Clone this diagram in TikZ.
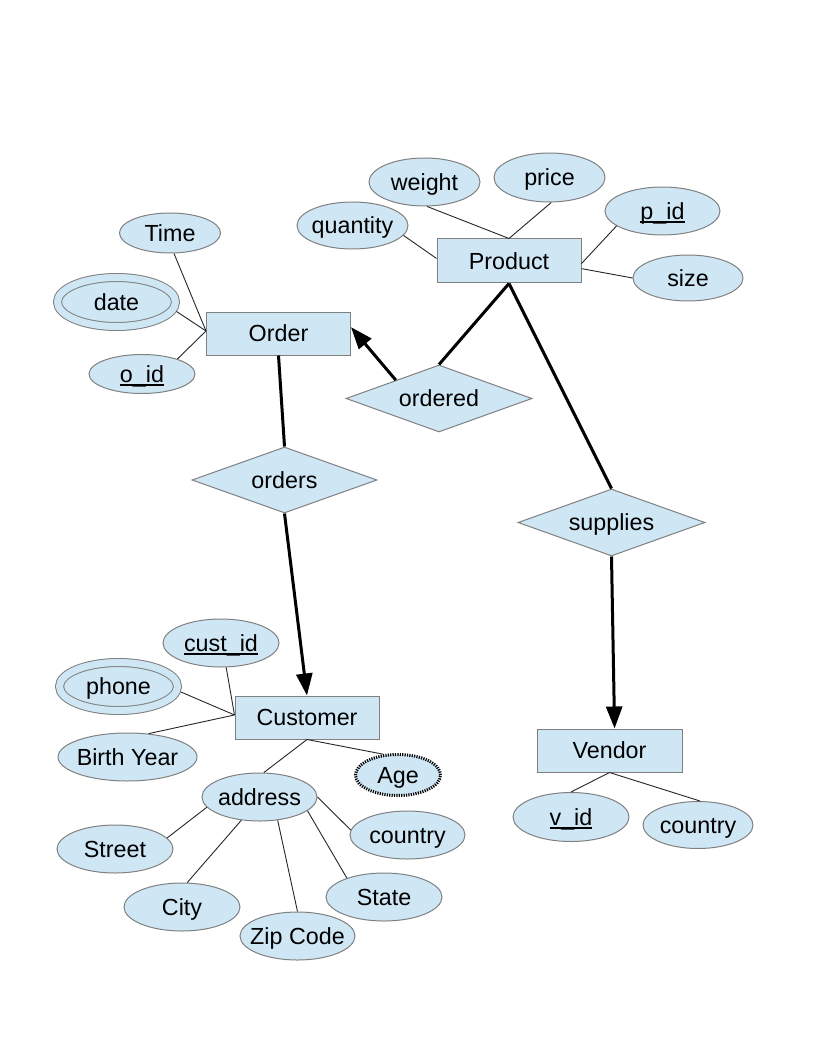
\documentclass[tikz,border=0pt]{standalone}
\usepackage{fontspec}
\setmainfont{Liberation Sans}
\usetikzlibrary{shapes.geometric,arrows.meta}
\definecolor{erfill}{RGB}{207,231,245}
\definecolor{erline}{RGB}{128,128,128}
% key attribute: underline drawn at a fixed depth below the baseline
\newcommand\keyattr[1]{\setbox0\hbox{#1}\rlap{\rule[-4pt]{\wd0}{1.8pt}}\box0}
\tikzset{
  base/.style={fill=erfill, draw=erline, line width=1pt, inner sep=0pt,
    font=\fontsize{23.3}{28}\selectfont, text=black,
    text height=16.2pt, text depth=0pt},
  entity/.style={base, rectangle, minimum width=144pt, minimum height=43pt},
  attr/.style={base, ellipse, inner xsep=-30pt, minimum width=110pt, minimum height=47pt},
  multiattr/.style={attr, double=erfill, double distance=7pt, outer sep=4.5pt},
  derivedattr/.style={attr, draw=black, line width=3pt, dash pattern=on 1.2pt off 1.2pt},
  relation/.style={base, diamond, aspect=2.78, minimum width=186pt, minimum height=67pt},
  link/.style={draw=black!85, line width=0.9pt},
  rel/.style={draw=black, line width=3pt},
  relarrow/.style={rel, -{Triangle[length=22pt,width=16pt]}},
}
\begin{document}
\begin{tikzpicture}[x=1pt, y=-1pt]
\fill[white] (0,0) rectangle (816,1056);
\useasboundingbox (0,0) rectangle (816,1056);

% Order and its attributes
\node[entity] (order) at (278.5,333.5) {Order};
\node[attr, minimum width=101pt, minimum height=40pt] (time) at (170,233) {Time};
\node[multiattr, minimum width=118pt, minimum height=49pt] (date) at (116.5,302) {date};
\node[attr, minimum width=106pt, minimum height=39pt] (oid) at (142,374) {\keyattr{o\_id}};

% Product and its attributes
\node[entity, minimum height=44pt] (product) at (509,261) {Product};
\node[attr, minimum width=111pt] (quantity) at (352.5,225.5) {quantity};
\node[attr, minimum width=111pt, minimum height=48pt] (weight) at (424.5,182) {weight};
\node[attr, minimum width=111pt, minimum height=49pt] (price) at (549.5,177.5) {price};
\node[attr, minimum width=115pt, minimum height=48pt] (pid) at (662.5,211) {\keyattr{p\_id}};
\node[attr, minimum height=46pt] (size) at (688,278) {size};

% Relationships
\node[relation] (ordered) at (439,398.5) {ordered};
\node[relation, minimum width=185pt, minimum height=66pt] (orders) at (284.5,480) {orders};
\node[relation, minimum width=187pt] (supplies) at (611.5,522.5) {supplies};

% Customer and its attributes
\node[entity] (customer) at (307,717.5) {Customer};
\node[attr, minimum width=116pt, minimum height=48pt] (custid) at (221,643) {\keyattr{cust\_id}};
\node[multiattr, minimum width=118pt, minimum height=48pt] (phone) at (118.5,686.5) {phone};
\node[attr, minimum width=139pt, minimum height=48pt] (birth) at (127.5,757) {Birth Year};
\node[derivedattr, minimum width=85pt, minimum height=41pt] (age) at (398,775) {Age};
\node[attr, minimum width=115pt, minimum height=48pt] (address) at (259.5,797) {address};
\node[attr, minimum width=115pt, minimum height=48pt] (country1) at (407.5,835) {country};
\node[attr, minimum width=116pt, minimum height=48pt] (street) at (115,849) {Street};
\node[attr, minimum width=116pt, minimum height=48pt] (city) at (182,907) {City};
\node[attr, minimum width=115pt, minimum height=48pt] (zip) at (297.5,936) {Zip Code};
\node[attr, minimum width=116pt, minimum height=48pt] (state) at (384,897) {State};

% Vendor and its attributes
\node[entity, minimum width=145pt] (vendor) at (609.5,750.5) {Vendor};
\node[attr, minimum width=116pt, minimum height=49pt] (vid) at (571,817) {\keyattr{v\_id}};
\node[attr, minimum width=110pt, minimum height=47pt] (country2) at (698,825) {country};

% attribute links
\draw[link] (time.281) -- (order.178);
\draw[link] (date.351) -- (order.178);
\draw[link] (oid.23) -- (order.178);

\draw[link] (quantity.349) -- (product.178);
\draw[link] (weight.276) -- (product.north);
\draw[link] (price.274) -- (product.north);
\draw[link] (pid.198) -- (product.358);
\draw[link] (size.180) -- (product.354);

\draw[link] (custid.282) -- (customer.178);
\draw[link] (phone.355) -- (customer.178);
\draw[link] (birth.48) -- (customer.178);
\draw[link] (customer.south) -- (address.80);
\draw[link] (customer.south) -- (age.125);

\draw[link] (street.12) -- (address.191);
\draw[link] (city.78) -- (address.232);
\draw[link] (zip.north) -- (address.308);
\draw[link] (state.153) -- (address.344);
\draw[link] (country1.175) -- (address.east);

\draw[link] (vendor.south) -- (vid.north);
\draw[link] (vendor.south) -- (country2.85);

% relationship links
\draw[rel] (order.south) -- (orders.north);
\draw[relarrow] (orders.south) -- (customer.north);
\draw[relarrow] (ordered.157) -- (order.5);
\draw[rel] (ordered.north) -- (product.south);
\draw[rel] (product.south) -- (supplies.north);
\draw[relarrow] (supplies.south) -- (vendor.77);
\end{tikzpicture}
\end{document}
